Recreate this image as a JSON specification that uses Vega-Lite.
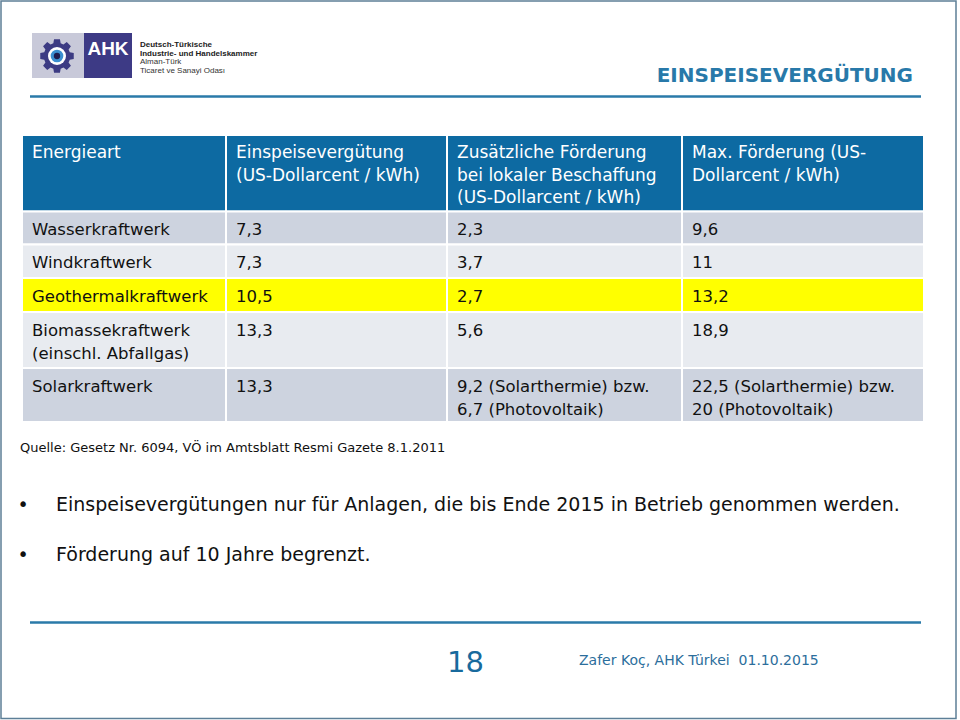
{
  "$schema": "https://vega.github.io/schema/vega-lite/v6.json",
  "width": 960,
  "height": 720,
  "autosize": {"type": "none"},
  "padding": 0,
  "background": "white",
  "config": {"view": {"stroke": null}, "axis": {"disable": true}},
  "datasets": {
    "zellen": [
      {"r0": 2, "r1": 3, "c0": 1, "c1": 2, "typ": "Kopf", "text": "Energieart"},
      {"r0": 2, "r1": 3, "c0": 2, "c1": 3, "typ": "Kopf", "text": "Einspeisevergütung\n(US-Dollarcent / kWh)"},
      {"r0": 2, "r1": 3, "c0": 3, "c1": 4, "typ": "Kopf", "text": "Zusätzliche Förderung\nbei lokaler Beschaffung\n(US-Dollarcent / kWh)"},
      {"r0": 2, "r1": 3, "c0": 4, "c1": 5, "typ": "Kopf", "text": "Max. Förderung (US-\nDollarcent / kWh)"},
      {"r0": 3, "r1": 4, "c0": 1, "c1": 2, "typ": "dunkel", "text": "Wasserkraftwerk"},
      {"r0": 3, "r1": 4, "c0": 2, "c1": 3, "typ": "dunkel", "text": "7,3"},
      {"r0": 3, "r1": 4, "c0": 3, "c1": 4, "typ": "dunkel", "text": "2,3"},
      {"r0": 3, "r1": 4, "c0": 4, "c1": 5, "typ": "dunkel", "text": "9,6"},
      {"r0": 4, "r1": 5, "c0": 1, "c1": 2, "typ": "hell", "text": "Windkraftwerk"},
      {"r0": 4, "r1": 5, "c0": 2, "c1": 3, "typ": "hell", "text": "7,3"},
      {"r0": 4, "r1": 5, "c0": 3, "c1": 4, "typ": "hell", "text": "3,7"},
      {"r0": 4, "r1": 5, "c0": 4, "c1": 5, "typ": "hell", "text": "11"},
      {"r0": 5, "r1": 6, "c0": 1, "c1": 2, "typ": "gelb", "text": "Geothermalkraftwerk"},
      {"r0": 5, "r1": 6, "c0": 2, "c1": 3, "typ": "gelb", "text": "10,5"},
      {"r0": 5, "r1": 6, "c0": 3, "c1": 4, "typ": "gelb", "text": "2,7"},
      {"r0": 5, "r1": 6, "c0": 4, "c1": 5, "typ": "gelb", "text": "13,2"},
      {"r0": 6, "r1": 7, "c0": 1, "c1": 2, "typ": "hell", "text": "Biomassekraftwerk\n(einschl. Abfallgas)"},
      {"r0": 6, "r1": 7, "c0": 2, "c1": 3, "typ": "hell", "text": "13,3"},
      {"r0": 6, "r1": 7, "c0": 3, "c1": 4, "typ": "hell", "text": "5,6"},
      {"r0": 6, "r1": 7, "c0": 4, "c1": 5, "typ": "hell", "text": "18,9"},
      {"r0": 7, "r1": 8, "c0": 1, "c1": 2, "typ": "dunkel", "text": "Solarkraftwerk"},
      {"r0": 7, "r1": 8, "c0": 2, "c1": 3, "typ": "dunkel", "text": "13,3"},
      {"r0": 7, "r1": 8, "c0": 3, "c1": 4, "typ": "dunkel", "text": "9,2 (Solarthermie) bzw.\n6,7 (Photovoltaik)"},
      {"r0": 7, "r1": 8, "c0": 4, "c1": 5, "typ": "dunkel", "text": "22,5 (Solarthermie) bzw.\n20 (Photovoltaik)"}
    ],
    "punkte": [
      {"zeile": 10, "text": "Einspeisevergütungen nur für Anlagen, die bis Ende 2015 in Betrieb genommen werden."},
      {"zeile": 11, "text": "Förderung auf 10 Jahre begrenzt."}
    ]
  },
  "layer": [
    {
      "data": {"values": [{}]},
      "mark": {"type": "rect", "filled": false, "stroke": "#5d7f97", "strokeWidth": 1.5, "xOffset": 1, "x2Offset": -4, "yOffset": 1, "y2Offset": -1.5},
      "encoding": {
        "x": {"datum": 0, "type": "quantitative", "axis": null, "scale": {"type": "linear", "domain": [0, 1, 2, 3, 4, 5, 6], "range": [0, 22, 226, 447, 682, 924, 960], "zero": false, "nice": false}},
        "x2": {"datum": 6},
        "y": {"datum": 0, "type": "quantitative", "axis": null, "scale": {"type": "linear", "domain": [0, 1, 2, 3, 4, 5, 6, 7, 8, 9, 10, 11, 12, 13, 14], "range": [0, 96.5, 135, 211.5, 244.5, 278, 312, 368, 422, 452, 511, 561, 622.5, 672, 720], "zero": false, "nice": false}},
        "y2": {"datum": 14}
      }
    },
    {
      "data": {"values": [{}]},
      "mark": {"type": "rect", "fill": "#c8c9d9", "xOffset": 32, "x2Offset": 86, "yOffset": 33, "y2Offset": 78},
      "encoding": {"x": {"datum": 0, "type": "quantitative"}, "x2": {"datum": 0}, "y": {"datum": 0, "type": "quantitative"}, "y2": {"datum": 0}}
    },
    {
      "data": {"values": [{}]},
      "mark": {"type": "rect", "fill": "#3d3a85", "xOffset": 84, "x2Offset": 132, "yOffset": 33, "y2Offset": 78},
      "encoding": {"x": {"datum": 0, "type": "quantitative"}, "x2": {"datum": 0}, "y": {"datum": 0, "type": "quantitative"}, "y2": {"datum": 0}}
    },
    {
      "data": {"values": [{}]},
      "mark": {"type": "point", "filled": true, "opacity": 1, "color": "#3c3b83", "size": 1156, "xOffset": 57, "yOffset": 56,
        "shape": "M0.750,-0.215L0.985,-0.174L0.985,0.174L0.750,0.215L0.682,0.378L0.819,0.574L0.574,0.819L0.378,0.682L0.215,0.750L0.174,0.985L-0.174,0.985L-0.215,0.750L-0.378,0.682L-0.574,0.819L-0.819,0.574L-0.682,0.378L-0.750,0.215L-0.985,0.174L-0.985,-0.174L-0.750,-0.215L-0.682,-0.378L-0.819,-0.574L-0.574,-0.819L-0.378,-0.682L-0.215,-0.750L-0.174,-0.985L0.174,-0.985L0.215,-0.750L0.378,-0.682L0.574,-0.819L0.819,-0.574L0.682,-0.378Z"},
      "encoding": {"x": {"datum": 0, "type": "quantitative"}, "y": {"datum": 0, "type": "quantitative"}}
    },
    {
      "data": {"values": [{}]},
      "mark": {"type": "point", "shape": "circle", "filled": true, "opacity": 1, "color": "white", "size": 324, "xOffset": 57, "yOffset": 56},
      "encoding": {"x": {"datum": 0, "type": "quantitative"}, "y": {"datum": 0, "type": "quantitative"}}
    },
    {
      "data": {"values": [{}]},
      "mark": {"type": "point", "shape": "circle", "filled": true, "opacity": 1, "color": "#3b8fd0", "size": 160, "xOffset": 57, "yOffset": 56},
      "encoding": {"x": {"datum": 0, "type": "quantitative"}, "y": {"datum": 0, "type": "quantitative"}}
    },
    {
      "data": {"values": [{}]},
      "mark": {"type": "point", "shape": "circle", "filled": true, "opacity": 1, "color": "#1d1c4e", "size": 40, "xOffset": 57, "yOffset": 56},
      "encoding": {"x": {"datum": 0, "type": "quantitative"}, "y": {"datum": 0, "type": "quantitative"}}
    },
    {
      "data": {"values": [{}]},
      "mark": {"type": "text", "text": "AHK", "font": "Liberation Sans", "fontWeight": "bold", "fontSize": 19, "color": "white", "align": "center", "baseline": "alphabetic", "dx": 108, "dy": 55},
      "encoding": {"x": {"datum": 0, "type": "quantitative"}, "y": {"datum": 0, "type": "quantitative"}}
    },
    {
      "data": {"values": [{}]},
      "mark": {"type": "text", "text": "Deutsch-Türkische", "font": "Liberation Sans", "fontWeight": "bold", "fontSize": 8, "color": "#222222", "align": "left", "baseline": "alphabetic", "dx": 140, "dy": 47},
      "encoding": {"x": {"datum": 0, "type": "quantitative"}, "y": {"datum": 0, "type": "quantitative"}}
    },
    {
      "data": {"values": [{}]},
      "mark": {"type": "text", "text": "Industrie- und Handelskammer", "font": "Liberation Sans", "fontWeight": "bold", "fontSize": 8, "color": "#222222", "align": "left", "baseline": "alphabetic", "dx": 140, "dy": 55.5},
      "encoding": {"x": {"datum": 0, "type": "quantitative"}, "y": {"datum": 0, "type": "quantitative"}}
    },
    {
      "data": {"values": [{}]},
      "mark": {"type": "text", "text": "Alman-Türk", "font": "Liberation Sans", "fontSize": 8, "color": "#333333", "align": "left", "baseline": "alphabetic", "dx": 140, "dy": 64},
      "encoding": {"x": {"datum": 0, "type": "quantitative"}, "y": {"datum": 0, "type": "quantitative"}}
    },
    {
      "data": {"values": [{}]},
      "mark": {"type": "text", "text": "Ticaret ve Sanayi Odası", "font": "Liberation Sans", "fontSize": 8, "color": "#333333", "align": "left", "baseline": "alphabetic", "dx": 140, "dy": 72.5},
      "encoding": {"x": {"datum": 0, "type": "quantitative"}, "y": {"datum": 0, "type": "quantitative"}}
    },
    {
      "data": {"values": [{}]},
      "mark": {"type": "text", "text": "EINSPEISEVERGÜTUNG", "font": "DejaVu Sans", "fontWeight": "bold", "fontSize": 20, "color": "#2879a9", "align": "right", "baseline": "alphabetic", "dx": -11, "dy": -15},
      "encoding": {"x": {"datum": 5, "type": "quantitative"}, "y": {"datum": 1, "type": "quantitative"}}
    },
    {
      "data": {"values": [{}]},
      "mark": {"type": "rule", "color": "#2a7aa9", "strokeWidth": 2.5, "xOffset": 8, "x2Offset": -3},
      "encoding": {"x": {"datum": 1, "type": "quantitative"}, "x2": {"datum": 5}, "y": {"datum": 1, "type": "quantitative"}}
    },
    {
      "data": {"values": [{}]},
      "mark": {"type": "rule", "color": "#2a7aa9", "strokeWidth": 2.5, "xOffset": 8, "x2Offset": -3},
      "encoding": {"x": {"datum": 1, "type": "quantitative"}, "x2": {"datum": 5}, "y": {"datum": 12, "type": "quantitative"}}
    },
    {
      "data": {"name": "zellen"},
      "mark": {"type": "rect", "stroke": "white", "strokeWidth": 2, "opacity": 1},
      "encoding": {
        "x": {"field": "c0", "type": "quantitative"},
        "x2": {"field": "c1"},
        "y": {"field": "r0", "type": "quantitative"},
        "y2": {"field": "r1"},
        "fill": {"field": "typ", "type": "nominal", "legend": null, "scale": {"domain": ["Kopf", "dunkel", "hell", "gelb"], "range": ["#0d6aa2", "#cdd3df", "#e8ebf0", "#ffff00"]}}
      }
    },
    {
      "data": {"name": "zellen"},
      "transform": [{"filter": "datum.typ === 'Kopf'"}],
      "mark": {"type": "text", "font": "DejaVu Sans", "fontSize": 17, "lineHeight": 22.7, "lineBreak": "\n", "color": "white", "align": "left", "baseline": "alphabetic", "dx": 10, "dy": 23},
      "encoding": {
        "x": {"field": "c0", "type": "quantitative"},
        "y": {"field": "r0", "type": "quantitative"},
        "text": {"field": "text"}
      }
    },
    {
      "data": {"name": "zellen"},
      "transform": [{"filter": "datum.typ !== 'Kopf'"}],
      "mark": {"type": "text", "font": "DejaVu Sans", "fontSize": 16.5, "lineHeight": 23, "lineBreak": "\n", "color": "#111111", "align": "left", "baseline": "alphabetic", "dx": 10, "dy": 23.5},
      "encoding": {
        "x": {"field": "c0", "type": "quantitative"},
        "y": {"field": "r0", "type": "quantitative"},
        "text": {"field": "text"}
      }
    },
    {
      "data": {"values": [{}]},
      "mark": {"type": "text", "text": "Quelle: Gesetz Nr. 6094, VÖ im Amtsblatt Resmi Gazete 8.1.2011", "font": "DejaVu Sans", "fontSize": 13, "color": "#111111", "align": "left", "baseline": "alphabetic", "dx": -2},
      "encoding": {"x": {"datum": 1, "type": "quantitative"}, "y": {"datum": 9, "type": "quantitative"}}
    },
    {
      "data": {"name": "punkte"},
      "mark": {"type": "text", "text": "•", "font": "DejaVu Sans", "fontSize": 19, "color": "#111111", "align": "center", "baseline": "alphabetic", "dx": 1},
      "encoding": {"x": {"datum": 1, "type": "quantitative"}, "y": {"field": "zeile", "type": "quantitative"}}
    },
    {
      "data": {"name": "punkte"},
      "mark": {"type": "text", "font": "DejaVu Sans", "fontSize": 19, "color": "#111111", "align": "left", "baseline": "alphabetic", "dx": 34},
      "encoding": {"x": {"datum": 1, "type": "quantitative"}, "y": {"field": "zeile", "type": "quantitative"}, "text": {"field": "text"}}
    },
    {
      "data": {"values": [{}]},
      "mark": {"type": "text", "text": "18", "font": "DejaVu Sans", "fontSize": 29, "color": "#186a9d", "align": "left", "baseline": "alphabetic"},
      "encoding": {"x": {"datum": 3, "type": "quantitative"}, "y": {"datum": 13, "type": "quantitative"}}
    },
    {
      "data": {"values": [{}]},
      "mark": {"type": "text", "text": "Zafer Koç, AHK Türkei\u00a0 01.10.2015", "font": "DejaVu Sans", "fontSize": 14, "color": "#2c6e9c", "align": "left", "baseline": "alphabetic", "dx": 132, "dy": -7},
      "encoding": {"x": {"datum": 3, "type": "quantitative"}, "y": {"datum": 13, "type": "quantitative"}}
    }
  ]
}
